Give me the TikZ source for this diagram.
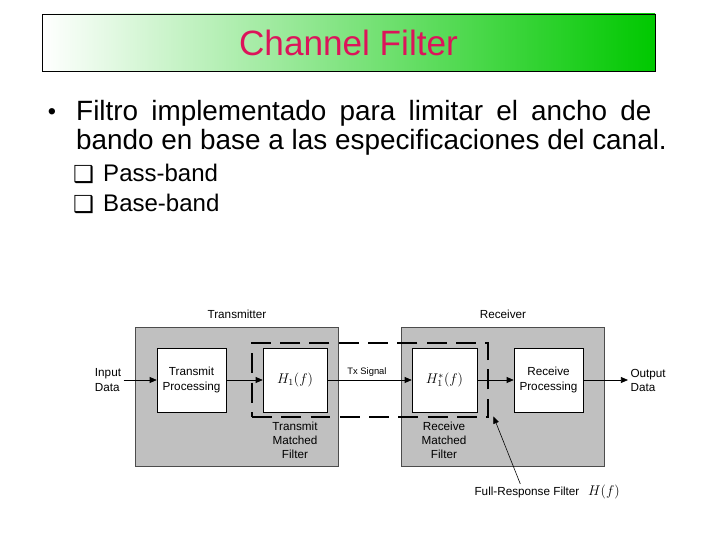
\documentclass[tikz,border=0pt]{standalone}
\usepackage{fontspec}
\setmainfont{Liberation Sans}
\newfontfamily\symfont{DejaVu Sans}
\usepackage{tikz}
\usetikzlibrary{arrows.meta,positioning,fit,calc}
\definecolor{headred}{RGB}{220,20,90}
\definecolor{headgreen}{RGB}{0,200,0}
\definecolor{palegreen}{RGB}{210,238,210}
\definecolor{boxgray}{RGB}{192,192,192}

\begin{document}
\begin{tikzpicture}[x=0.03cm, y=-0.03cm,
header/.style={draw, line width=0.6pt, left color=white, middle color=palegreen, right color=headgreen, minimum width=18.39cm, minimum height=1.71cm, text=headred, font=\fontsize{30}{36}\selectfont},
body/.style={anchor=base west, inner sep=0pt, font=\fontsize{23.8}{28}\selectfont},
item/.style={anchor=base west, inner sep=0pt, font=\fontsize{20.5}{24}\selectfont},
tick/.style={anchor=base west, inner sep=0pt, font=\symfont\fontsize{20}{24}\selectfont},
part/.style={draw=black!70, fill=boxgray, minimum width=6.08cm, minimum height=4.17cm},
block/.style={draw, fill=white, minimum height=1.92cm, align=center, font=\fontsize{10}{12}\selectfont},
matched/.style={draw, line width=2.5pt, dash pattern=on 17pt off 8pt, minimum width=7.08cm, minimum height=2.22cm},
desc/.style={align=center, inner sep=2pt, font=\fontsize{10}{12}\selectfont},
line/.style={-{Triangle[length=6pt,width=5pt]}, line width=0.6pt}
]
\fill[white] (0,0) rectangle (720,540);

% title and text
\node[header] (head) at (348.5,42.5) {Channel Filter};
\node[anchor=base, inner sep=0pt, font=\fontsize{20}{24}\selectfont] (dot) at (52,120) {\textbullet};
\node[body] (line1) at (76,121) {\makebox[491pt][s]{Filtro implementado para limitar el ancho de}};
\node[body] (line2) at (76,150) {bando en base a las especificaciones del canal.};
\node[tick] (box1) at (73,183) {❑};
\node[item] (pass) at (103,182) {Pass-band};
\node[tick] (box2) at (73,213) {❑};
\node[item] (base) at (103,212) {Base-band};

% diagram
\node[part] (tx) at (236.5,396.5) {};
\node[part] (rx) at (503,396.5) {};
\node[desc] (txname) at (237,314) {Transmitter};
\node[desc] (rxname) at (503,314) {Receiver};
\node[block, minimum width=2.07cm] (txproc) at (191.5,380) {Transmit\\Processing};
\node[block, minimum width=1.92cm, font=\fontsize{12}{14}\selectfont] (h1) at (295,380) {$H_1(f)$};
\node[block, minimum width=1.95cm, font=\fontsize{12}{14}\selectfont] (h1c) at (444.5,380) {$H_1^{*}(f)$};
\node[block, minimum width=2.07cm] (rxproc) at (548.5,380) {Receive\\Processing};
\node[matched] (full) at (370,380) {};
\node[desc, align=left] (input) at (108,380) {Input\\Data};
\node[desc, align=left, anchor=west] (output) at (628,380) {Output\\Data};
\node[desc, font=\fontsize{8}{10}\selectfont] (txsig) at (367,372) {Tx Signal};
\node[desc] (txmf) at (295,440) {Transmit\\Matched\\Filter};
\node[desc] (rxmf) at (444,440) {Receive\\Matched\\Filter};
\node[desc, anchor=base west] (fr) at (472,495) {Full-Response Filter};
\node[anchor=base west, inner sep=0pt, font=\fontsize{12}{14}\selectfont] (hf) at (588,495) {$H(f)$};

\draw[line] (input) -- (txproc);
\draw[line] (txproc) -- (h1);
\draw[line] (h1) -- (h1c);
\draw[line] (h1c) -- (rxproc);
\draw[line] (rxproc) -- (output);
\draw[line, line width=0.5pt] ([xshift=-0.2cm]fr.north) -- ([xshift=0.12cm,yshift=0.06cm]full.south east);
\end{tikzpicture}
\end{document}
